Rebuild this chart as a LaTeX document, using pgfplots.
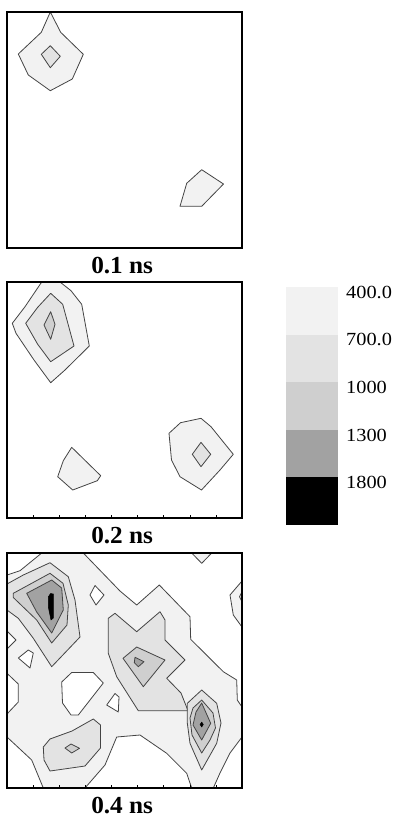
\documentclass[border=0pt]{standalone}
\usepackage{fontspec}
\setmainfont{Liberation Serif}[FakeStretch=1.1]
\newfontfamily\lblfont{Liberation Serif}[FakeStretch=1.03]
\usepackage{pgfplots}
\pgfplotsset{compat=1.18}
\definecolor{c1}{HTML}{F2F2F2}
\definecolor{c2}{HTML}{E3E3E3}
\definecolor{c3}{HTML}{CFCFCF}
\definecolor{c4}{HTML}{A2A2A2}
\definecolor{c5}{HTML}{000000}
\definecolor{cline}{HTML}{444444}
\pgfplotsset{
  lv0/.style={fill=white,draw=cline,line width=0.8pt,line join=round},
  lv1/.style={fill=c1,draw=cline,line width=0.8pt,line join=round},
  lv2/.style={fill=c2,draw=cline,line width=0.8pt,line join=round},
  lv3/.style={fill=c3,draw=cline,line width=0.8pt,line join=round},
  lv4/.style={fill=c4,draw=cline,line width=0.8pt,line join=round},
  lv5/.style={fill=c5,draw=black,line width=0.5pt,line join=round},
  panel/.style={scale only axis, width=235pt, xmin=7, xmax=242, y dir=reverse,
    axis on top, axis line style={line width=1.1pt}, ytick=\empty,
    xlabel style={at={(axis description cs:0.49,0)}, anchor=base, yshift=-25pt,
      inner sep=0.5pt, font=\lblfont\bfseries\fontsize{24.5}{27}\selectfont}},
  ticked/.style={xtick={33.1,59.2,85.3,111.4,137.6,163.7,189.8,215.9},
    xticklabels={}, xtick pos=left, major tick length=3pt,
    tick style={black,line width=0.6pt}}
}
\begin{document}
\begin{tikzpicture}
\useasboundingbox (0,0) rectangle (394pt,-817pt);
% ---------------- panel 1: 0.1 ns
\begin{axis}[panel, at={(7pt,-248pt)}, anchor=south west, height=236pt,
  ymin=12, ymax=248, xtick=\empty, xlabel={0.1 ns}]
\addplot[lv1] coordinates {(50.3,12)(41.3,32.3)(18.3,54)(28.3,75)(50.3,90.7)(72.3,79)(83.3,54.3)(60.7,32.3)} -- cycle;
\addplot[lv2] coordinates {(50.3,45.7)(60.3,56.3)(50.3,67.7)(41.3,54.3)} -- cycle;
\addplot[lv1] coordinates {(201.7,169.7)(223.5,184)(201.7,206.3)(180,206.3)(186.7,183.3)} -- cycle;
\end{axis}
% ---------------- panel 2: 0.2 ns
\begin{axis}[panel, ticked, at={(7pt,-518pt)}, anchor=south west, height=236pt,
  ymin=282, ymax=518, xlabel={0.2 ns}]
\addplot[lv1] coordinates {(41.7,282)(60,282)(71,290.7)(81.7,304.3)(89.3,346)(65,370)(50.7,382.7)(34,360)(16,333.3)(12.3,323.3)(25,306.7)} -- cycle;
\addplot[lv2] coordinates {(50.7,293.3)(62.7,304.3)(74,346)(50.7,361.7)(37.7,344.3)(25.7,323.3)(37.7,307.3)} -- cycle;
\addplot[lv3] coordinates {(50.7,311.7)(55,324.3)(50.7,339.3)(44,325)} -- cycle;
\addplot[lv1] coordinates {(71.7,447.3)(100.7,475.7)(97.3,480.7)(72.7,490)(57.7,476.7)(63.3,460.7)} -- cycle;
\addplot[lv1] coordinates {(180.5,422.7)(201,418.3)(211,426.7)(233.3,454.3)(220,470)(201.5,490)(180,476.7)(171.5,460)(169,433.3)} -- cycle;
\addplot[lv2] coordinates {(201,442.3)(210.7,454.3)(201,466.7)(192.3,454.3)} -- cycle;
\end{axis}
% ---------------- panel 3: 0.4 ns
\begin{axis}[panel, ticked, at={(7pt,-788pt)}, anchor=south west, height=235pt,
  ymin=553, ymax=788, xlabel={0.4 ns}, axis background/.style={fill=c1}]
% regions below 400
\addplot[lv0] coordinates {(7,553)(41.7,553)(20,570.7)(7,575)} -- cycle;
\addplot[lv0] coordinates {(83.3,553)(120,591)(136.7,605)(159.3,585)(190,616.7)(190.7,639.3)(223.3,671.7)(236.7,680)(237.3,700)(242,707)(242,553)} -- cycle;
\addplot[lv0] coordinates {(95,585.5)(104,595)(96,605)(90,595)} -- cycle;
\addplot[lv0] coordinates {(7,631)(16,640)(7,649)} -- cycle;
\addplot[lv0] coordinates {(18.3,658)(28.3,650)(33.3,653)(30,668)} -- cycle;
\addplot[lv0] coordinates {(7,673.3)(18.3,684)(18.3,702)(7,714)} -- cycle;
\addplot[lv0] coordinates {(71.7,672.5)(93.3,672.5)(103.3,683)(78.3,715)(71,715)(62.5,703)(61.7,682)} -- cycle;
\addplot[lv0] coordinates {(115,693.5)(119,697)(118.3,712)(106.7,705)} -- cycle;
\addplot[lv0] coordinates {(7,737)(31.7,760)(43.3,788)(7,788)} -- cycle;
\addplot[lv0] coordinates {(85,788)(105,765)(116.7,737)(140,735)(166.7,753.3)(186.7,773.3)(191.7,788)} -- cycle;
\addplot[lv0] coordinates {(213.3,788)(220,773)(230,753)(242,737)(242,788)} -- cycle;
% 400 islands inside white
\addplot[lv1] coordinates {(191.7,553)(211.7,553)(201.7,563.3)} -- cycle;
\addplot[lv1] coordinates {(242,581)(230,595)(233.3,615)(242,627)} -- cycle;
\addplot[lv2] coordinates {(242,591.7)(239.5,596.7)(242,601.7)} -- cycle;
% 700
\addplot[lv2] coordinates {(7,584)(23.3,575)(50,562.7)(68.3,576.7)(75,600)(80,637)(51.7,666.7)(33.3,638.3)(18.3,618.3)(7,610)} -- cycle;
\addplot[lv2] coordinates {(108.3,618.3)(115,613.3)(136.7,631.7)(160,611.7)(165,620)(165,640)(185,660)(166.7,678.3)(181,693)(188,710.7)(138.3,710.7)(116.7,676.7)(108.3,653.3)} -- cycle;
\addplot[lv2] coordinates {(201.7,690)(216.7,703.3)(221,723)(216.7,743.3)(201.7,770)(190,743.3)(187.3,723)(187.3,703.3)} -- cycle;
\addplot[lv2] coordinates {(43.3,747)(50,739)(72,731)(93.3,719)(100.5,725)(100.5,748)(85,766)(50,771)(44,760)} -- cycle;
% 1000
\addplot[lv3] coordinates {(13.3,593.3)(50,573.3)(63,583.3)(68.3,605)(67,625)(51.7,643)(36.7,620)(13.3,597.5)} -- cycle;
\addplot[lv3] coordinates {(136.7,647)(165,660)(143.3,686.7)(123,658.3)} -- cycle;
\addplot[lv3] coordinates {(201.7,700)(213,713)(215.5,728)(210,740)(201.7,753)(192,735)(190,718)(193,708)} -- cycle;
\addplot[lv3] coordinates {(65,748)(71,744)(79.5,748.3)(71.7,753)} -- cycle;
% 1300
\addplot[lv4] coordinates {(26.7,593.3)(51.7,580)(61.7,588)(63.3,610)(51.7,633)(36.7,612)} -- cycle;
\addplot[lv4] coordinates {(135,657.3)(144,661.7)(138.3,666.7)(134.3,662.7)} -- cycle;
\addplot[lv4] coordinates {(201.7,703)(210.7,723.3)(201.7,740)(193,725)(196,712)} -- cycle;
% 1800
\addplot[lv5] coordinates {(48.3,597)(50.5,593.5)(53.3,594)(53.3,618)(51,620)(48.3,607)} -- cycle;
\addplot[lv5] coordinates {(201.7,722)(203.3,724.5)(201.7,727)(200.1,724.5)} -- cycle;
\end{axis}
% ---------------- colour key
\begin{axis}[at={(285.7pt,-525pt)}, anchor=south west, scale only axis,
  width=52.3pt, height=238pt, xmin=0, xmax=1, ymin=0, ymax=5, y dir=reverse,
  axis line style={draw=none}, xtick=\empty,
  ytick={0.237,1.237,2.237,3.237,4.237},
  yticklabels={400.0,700.0,1000,1300,1800},
  ytick pos=right, yticklabel pos=right, major tick length=0pt,
  yticklabel style={anchor=base west, inner sep=0pt, xshift=8pt,
    font=\fontsize{18.5}{20}\selectfont}]
\addplot[fill=c1,draw=none] coordinates {(0,0)(1,0)(1,1)(0,1)} -- cycle;
\addplot[fill=c2,draw=none] coordinates {(0,1)(1,1)(1,2)(0,2)} -- cycle;
\addplot[fill=c3,draw=none] coordinates {(0,2)(1,2)(1,3)(0,3)} -- cycle;
\addplot[fill=c4,draw=none] coordinates {(0,3)(1,3)(1,4)(0,4)} -- cycle;
\addplot[fill=c5,draw=none] coordinates {(0,4)(1,4)(1,5)(0,5)} -- cycle;
\end{axis}
\end{tikzpicture}
\end{document}
